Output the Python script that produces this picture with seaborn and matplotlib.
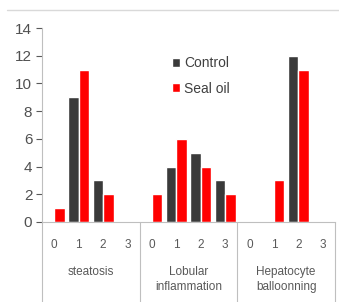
import pandas as pd
import matplotlib.pyplot as plt
import seaborn as sns
from matplotlib.transforms import blended_transform_factory

# data
groups = ['steatosis', 'Lobular\ninflammation', 'Hepatocyte\nballoonning']
scores = ['0', '1', '2', '3']
control = [0, 9, 3, 0, 0, 4, 5, 3, 0, 0, 12, 0]
seal_oil = [1, 11, 2, 0, 2, 6, 4, 2, 0, 3, 11, 0]

n = len(control)
df = pd.DataFrame({
    'pos': list(range(n)) * 2,
    'value': control + seal_oil,
    'series': ['Control'] * n + ['Seal oil'] * n,
})

sns.set_theme(style='white')
plt.rcParams['font.family'] = ['Liberation Sans', 'DejaVu Sans']

fig = plt.figure(figsize=(3.39, 3.02), dpi=100)
ax = fig.add_axes([0.124, 0.265, 0.864, 0.642])

sns.barplot(data=df, x='pos', y='value', hue='series', order=list(range(n)),
            palette={'Control': '#3a3a3a', 'Seal oil': '#ff0000'},
            width=0.86, gap=0, saturation=1, ax=ax)

grey = '#595959'
line_c = '#bfbfbf'
ax.set_ylim(0, 14)
ax.set_yticks(range(0, 15, 2))
ax.set_xlim(-0.5, n - 0.5)
ax.set_xticks(range(n))
ax.set_xticklabels(scores * len(groups))
ax.set_xlabel('')
ax.set_ylabel('')
ax.tick_params(axis='y', colors=grey, labelsize=11, length=4, width=0.8, direction='out', left=True, pad=3)
ax.tick_params(axis='x', colors=grey, labelsize=8.5, length=0, pad=12)
for lab in ax.get_yticklabels():
    lab.set_color('#505050')
for s in ['top', 'right']:
    ax.spines[s].set_visible(False)
for s in ['left', 'bottom']:
    ax.spines[s].set_color(line_c)
    ax.spines[s].set_linewidth(0.8)

trans = blended_transform_factory(ax.transData, ax.transAxes)
for b in [-0.5, 3.5, 7.5, 11.5]:
    ax.plot([b, b], [0, -0.42], color=line_c, lw=0.8, transform=trans, clip_on=False)
for i, g in enumerate(groups):
    ax.text(4 * i + 1.5, -0.225, g, transform=trans, ha='center', va='top',
            fontsize=8.5, color=grey, linespacing=1.35)

leg = ax.legend(loc='upper left', bbox_to_anchor=(0.42, 0.89), frameon=False,
                fontsize=10, handlelength=0.6, handleheight=0.6, handletextpad=0.3,
                labelspacing=0.82, borderpad=0)
for t in leg.get_texts():
    t.set_color('#404040')

fig.add_artist(plt.Line2D([0.02, 1.0], [0.967, 0.967], color='#d9d9d9', lw=1))

fig.savefig('out.png', dpi=100)
